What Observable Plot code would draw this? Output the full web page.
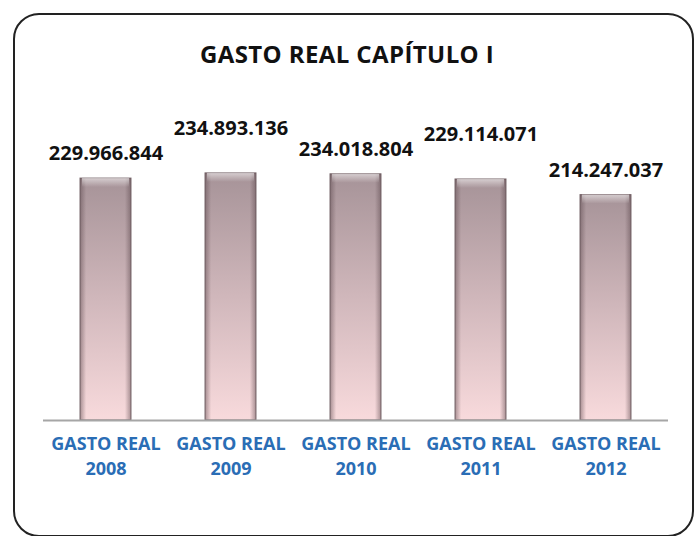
<!DOCTYPE html>
<html><head><meta charset="utf-8">
<script src="https://cdn.jsdelivr.net/npm/d3@7"></script>
<script src="https://cdn.jsdelivr.net/npm/@observablehq/plot@0.6"></script>
<style>
body{margin:0;background:#fff;}
#wrap{position:relative;width:694px;height:536px;overflow:hidden;font-family:"Open Sans",sans-serif;}
#chart{position:absolute;left:0;top:0;}
#frame{position:absolute;left:13px;top:13px;width:677px;height:520px;border:2px solid #222;border-radius:26px;pointer-events:none;}
#title{position:absolute;left:0;width:694px;top:38px;line-height:32px;text-align:center;font-weight:700;font-size:24px;color:#111;letter-spacing:0.4px;}
</style></head><body>
<svg width="0" height="0" style="position:absolute">
  <defs>
    <linearGradient id="gv" x1="0" y1="0" x2="0" y2="1">
      <stop offset="0" stop-color="#a69398"/>
      <stop offset="0.5" stop-color="#d0b7bb"/>
      <stop offset="1" stop-color="#f8dadc"/>
    </linearGradient>
    <linearGradient id="gh" x1="0" y1="0" x2="1" y2="0">
      <stop offset="0" stop-color="#5a464b" stop-opacity="0.5"/>
      <stop offset="0.12" stop-color="#5a464b" stop-opacity="0"/>
      <stop offset="0.88" stop-color="#5a464b" stop-opacity="0"/>
      <stop offset="1" stop-color="#5a464b" stop-opacity="0.5"/>
    </linearGradient>
    <linearGradient id="gt" x1="0" y1="0" x2="0" y2="1">
      <stop offset="0" stop-color="#ffffff" stop-opacity="0.55"/>
      <stop offset="1" stop-color="#ffffff" stop-opacity="0"/>
    </linearGradient>
  </defs>
</svg>
<div id="wrap"><div id="chart"></div><div id="title"></div><div id="frame"></div></div>
<script>
const chartTitle = "GASTO REAL CAPÍTULO I";
const years = ["2008", "2009", "2010", "2011", "2012"];
const gasto = [229966844, 234893136, 234018804, 229114071, 214247037];
const categoryPrefix = "GASTO REAL";

const data = years.map((y, i) => ({year: y, value: gasto[i], i}));
const fmt = v => d3.format(",")(v).replace(/,/g, ".");

document.getElementById("title").textContent = chartTitle;

const plot = Plot.plot({
  width: 694,
  height: 536,
  marginLeft: 43,
  marginRight: 26,
  marginTop: 157,
  marginBottom: 116,
  style: {background: "none", fontFamily: "'Open Sans', sans-serif", overflow: "visible"},
  x: {domain: years, axis: null, paddingInner: 0.59, paddingOuter: 0.295},
  y: {domain: [0, 250000000], axis: null},
  marks: [
    Plot.barY(data, {x: "year", y: "value", fill: "url(#gv)", stroke: "#7b6a6e", strokeWidth: 1}),
    Plot.barY(data, {x: "year", y: "value", fill: "url(#gh)"}),
    Plot.barY(data, {x: "year", y1: "value", y2: "value", insetBottom: -9, insetLeft: 2, insetRight: 2, fill: "url(#gt)"}),
    Plot.ruleY([0], {stroke: "#a6a6a6", strokeWidth: 2}),
    Plot.text(data.filter(d => d.i % 2 === 0), {x: "year", y: "value", text: d => fmt(d.value), dy: -25, fontSize: 20, fontWeight: 700, fill: "#111"}),
    Plot.text(data.filter(d => d.i % 2 === 1), {x: "year", y: "value", text: d => fmt(d.value), dy: -45, fontSize: 20, fontWeight: 700, fill: "#111"}),
    Plot.text(data, {x: "year", frameAnchor: "bottom", text: () => categoryPrefix, dy: 29, fontSize: 18, fontWeight: 700, fill: "#2a6db5"}),
    Plot.text(data, {x: "year", frameAnchor: "bottom", text: "year", dy: 54, fontSize: 18, fontWeight: 700, fill: "#2a6db5"})
  ]
});
document.getElementById("chart").appendChild(plot);
</script>
</body></html>
